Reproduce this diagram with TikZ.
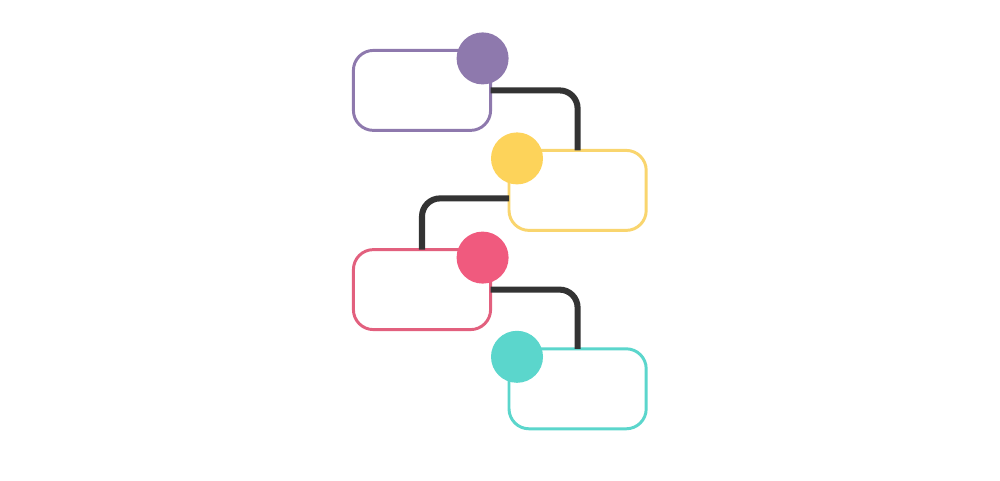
\documentclass[tikz,border=0pt]{standalone}
\usetikzlibrary{positioning}
\definecolor{stepPurple}{RGB}{142,121,173}
\definecolor{stepYellow}{RGB}{253,211,90}
\definecolor{stepPink}{RGB}{240,90,126}
\definecolor{stepTeal}{RGB}{91,214,204}
\definecolor{edgeYellow}{RGB}{249,213,110}
\definecolor{edgePink}{RGB}{226,96,126}
\definecolor{linkDark}{RGB}{51,51,51}
\begin{document}
\begin{tikzpicture}[
  card/.style={draw=#1, line width=2.1pt, fill=white, rounded corners=0.5cm,
    minimum width=3.43cm, minimum height=2cm, inner sep=0pt, outer sep=0pt},
  dot/.style={circle, fill=#1, minimum size=1.3cm, inner sep=0pt, outer sep=0pt},
  link/.style={draw=linkDark, line width=4.3pt, rounded corners=0.45cm}
]
\useasboundingbox (0,0) rectangle (25,12);

\node[card=stepPurple] (box1) at (10.55,9.74) {};
\node[card=edgeYellow] (box2) at (14.44,7.24) {};
\node[card=edgePink]   (box3) at (10.55,4.76) {};
\node[card=stepTeal]   (box4) at (14.44,2.28) {};

\draw[link] (box1.east) -| (box2.north);
\draw[link] ([yshift=-0.2cm]box2.west) -| (box3.north);
\draw[link] (box3.east) -| (box4.north);

\node[dot=stepPurple] (dot1) at ([shift={(-0.2,-0.2)}]box1.north east) {};
\node[dot=stepYellow] (dot2) at ([shift={(0.2,-0.2)}]box2.north west) {};
\node[dot=stepPink]   (dot3) at ([shift={(-0.2,-0.2)}]box3.north east) {};
\node[dot=stepTeal]   (dot4) at ([shift={(0.2,-0.2)}]box4.north west) {};

\end{tikzpicture}
\end{document}
